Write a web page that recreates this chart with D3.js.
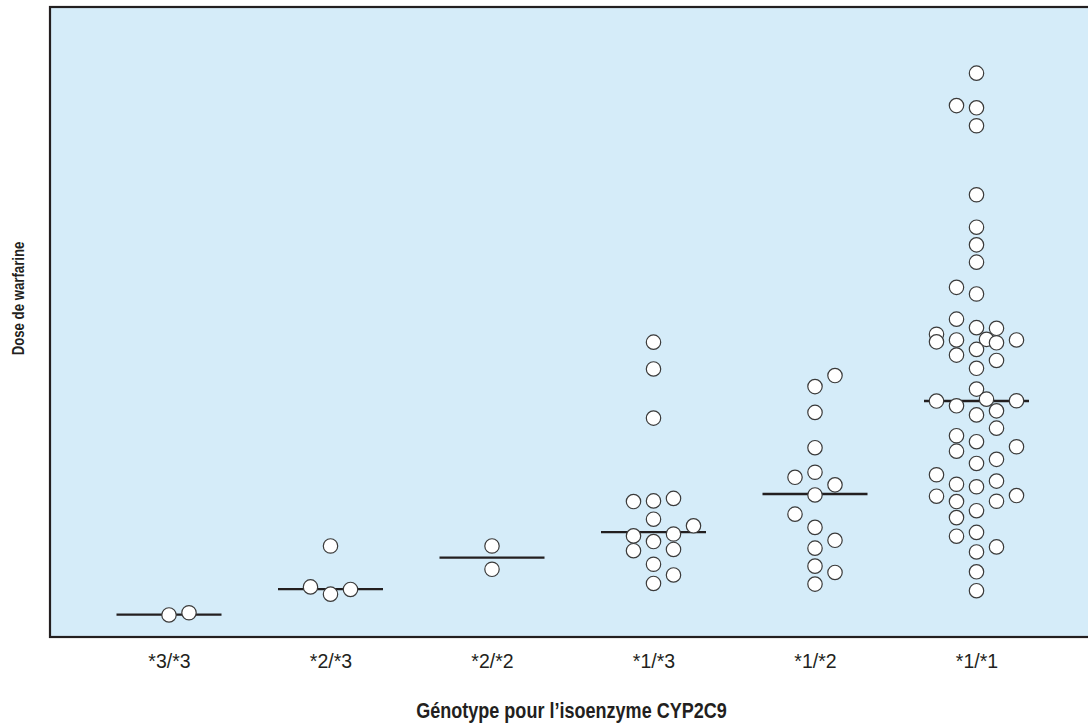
<!DOCTYPE html>
<html>
<head>
<meta charset="utf-8">
<script src="https://cdn.jsdelivr.net/npm/d3@7"></script>
<style>
  body { margin: 0; background: #fff; }
  svg { display: block; }
  .tick-label { font-family: "Liberation Sans", Arial, sans-serif; font-size: 19.5px; fill: #231f20; }
  .axis-title { font-family: "Liberation Sans", Arial, sans-serif; font-weight: bold; fill: #231f20; }
</style>
</head>
<body>
<svg id="chart" width="1088" height="724"></svg>
<script>
// genotypes, left to right
var categories = ['*3/*3', '*2/*3', '*2/*2', '*1/*3', '*1/*2', '*1/*1'];
// median dose per genotype (arbitrary dose units)
var medians = [0.71, 1.52, 2.52, 3.33, 4.54, 7.49];

// individual doses per genotype, with a swarm slot (side offset) for each
var dose33 = [0.70, 0.77];
var slot33 = [0, 1];
var dose23 = [1.59, 1.36, 1.51, 2.89];
var slot23 = [-1, 0, 1, 0];
var dose22 = [2.89, 2.15];
var slot22 = [0, 0];
var dose13 = [9.36, 8.51, 6.95, 4.30, 4.32, 4.40, 3.74, 3.53, 3.21, 3.27, 3.03, 2.74, 2.78, 2.31, 1.97, 1.70];
var slot13 = [0, 0, 0, -1, 0, 1, 0, 2, -1, 1, 0, -1, 1, 0, 1, 0];
var dose12 = [8.30, 7.95, 7.13, 6.01, 5.07, 5.23, 4.83, 4.51, 3.90, 3.48, 3.07, 2.82, 2.25, 2.05, 1.68];
var slot12 = [1, 0, 0, 0, -1, 0, 1, 0, -1, 0, 1, 0, 0, 1, 0];
var dose11 = [17.90, 16.87, 16.80, 16.23, 14.04, 13.01, 12.45, 11.90, 11.10, 10.89,
  10.09, 9.82, 9.80, 9.61, 9.37, 9.43, 9.45, 9.34, 9.43, 9.13,
  8.95, 8.78, 8.53, 7.87, 7.49, 7.55, 7.50, 7.34, 7.18, 7.05,
  6.63, 6.39, 6.20, 6.04, 5.90, 5.64, 5.51, 5.15, 4.95, 4.85,
  4.77, 4.47, 4.49, 4.30, 4.31, 4.01, 3.79, 3.20, 3.32, 2.86,
  2.70, 2.07, 1.47];
var slot11 = [0, -1, 0, 0, 0, 0, 0, 0, -1, 0,
  -1, 0, 1, -2, -2, -1, 0.5, 1, 2, 0,
  -1, 1, 0, 0, -2, 0.5, 2, -1, 1, 0,
  1, -1, 0, 2, -1, 1, 0, -2, 1, -1,
  0, -2, 2, -1, 1, 0, -1, -1, 0, 1,
  0, 0, 0];

var doses = [dose33, dose23, dose22, dose13, dose12, dose11];
var slots = [slot33, slot23, slot22, slot13, slot12, slot11];

var frame = { left: 50, top: 7, right: 1150, bottom: 637 };

var svg = d3.select('#chart');

var x = d3.scalePoint().domain(categories).range([169, 976.5]);
var y = d3.scaleLinear().domain([0, 20]).range([frame.bottom, frame.top]);
var slotX = d3.scaleLinear().domain([-1, 1]).range([-20, 20]);

// plot background and frame
svg.append('rect')
  .attr('x', frame.left)
  .attr('y', frame.top)
  .attr('width', frame.right - frame.left)
  .attr('height', frame.bottom - frame.top)
  .attr('fill', '#d5ecf9')
  .attr('stroke', '#231f20')
  .attr('stroke-width', 2.2);

// x axis labels (no tick marks)
var xAxis = d3.axisBottom(x).tickSize(0).tickPadding(0);
var axisG = svg.append('g')
  .attr('transform', 'translate(0,' + frame.bottom + ')')
  .call(xAxis);
axisG.select('.domain').remove();
axisG.selectAll('text')
  .attr('class', 'tick-label')
  .attr('dy', null)
  .attr('y', 30.5)
  .attr('fill', null);

// median lines
svg.append('g')
  .selectAll('line')
  .data(categories)
  .enter()
  .append('line')
  .attr('x1', function (c) { return x(c) - 52.5; })
  .attr('x2', function (c) { return x(c) + 52.5; })
  .attr('y1', function (c, i) { return y(medians[i]); })
  .attr('y2', function (c, i) { return y(medians[i]); })
  .attr('stroke', '#231f20')
  .attr('stroke-width', 2.4);

// points
var points = [];
categories.forEach(function (c, i) {
  doses[i].forEach(function (d, j) {
    points.push({ cat: c, dose: d, slot: slots[i][j] });
  });
});

svg.append('g')
  .selectAll('circle')
  .data(points)
  .enter()
  .append('circle')
  .attr('cx', function (p) { return x(p.cat) + slotX(p.slot); })
  .attr('cy', function (p) { return y(p.dose); })
  .attr('r', 7.2)
  .attr('fill', '#ffffff')
  .attr('stroke', '#3a3a3a')
  .attr('stroke-width', 1.2);

// axis titles, squeezed to mimic a condensed face
svg.append('text')
  .attr('class', 'axis-title')
  .attr('transform', 'translate(571.5,718) scale(0.82,1)')
  .attr('text-anchor', 'middle')
  .style('font-size', '22px')
  .text('Génotype pour l’isoenzyme CYP2C9');

svg.append('text')
  .attr('class', 'axis-title')
  .attr('transform', 'translate(24,298.5) rotate(-90) scale(0.8,1)')
  .attr('text-anchor', 'middle')
  .style('font-size', '16.5px')
  .text('Dose de warfarine');
</script>
</body>
</html>
